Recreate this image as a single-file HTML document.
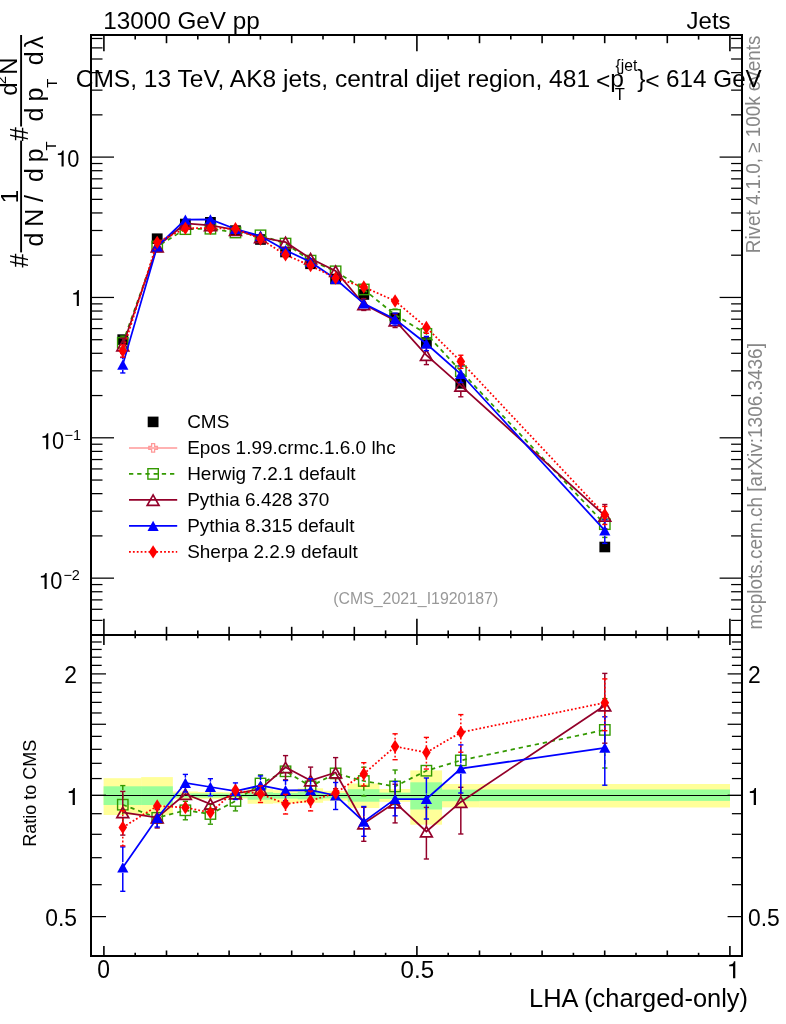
<!DOCTYPE html>
<html><head><meta charset="utf-8"><title>plot</title>
<style>
html,body{margin:0;padding:0;background:#fff;}
body{width:786px;height:1024px;overflow:hidden;font-family:"Liberation Sans",sans-serif;}
svg{display:block;position:absolute;left:0;top:0;will-change:transform;}
text{font-family:"Liberation Sans",sans-serif;}
</style></head><body>
<svg width="786" height="1024" viewBox="0 0 786 1024">
<rect x="0" y="0" width="786" height="1024" fill="#fff"/>
<clipPath id="cr"><rect x="91.0" y="635.0" width="651.0" height="321.0"/></clipPath>
<clipPath id="cm"><rect x="91.0" y="35.0" width="651.0" height="600.0"/></clipPath>
<g clip-path="url(#cr)">
<rect x="103.60" y="778.20" width="37.96" height="36.80" fill="#ffff99"/>
<rect x="141.16" y="777.10" width="31.70" height="37.70" fill="#ffff99"/>
<rect x="172.46" y="791.50" width="25.44" height="7.50" fill="#ffff99"/>
<rect x="197.50" y="792.00" width="25.44" height="7.20" fill="#ffff99"/>
<rect x="222.54" y="792.20" width="25.44" height="6.40" fill="#ffff99"/>
<rect x="247.58" y="788.80" width="25.44" height="15.00" fill="#ffff99"/>
<rect x="272.62" y="790.20" width="25.44" height="13.10" fill="#ffff99"/>
<rect x="297.66" y="788.30" width="25.44" height="14.50" fill="#ffff99"/>
<rect x="322.70" y="790.90" width="25.44" height="9.80" fill="#ffff99"/>
<rect x="347.74" y="783.50" width="31.70" height="24.50" fill="#ffff99"/>
<rect x="379.04" y="789.00" width="31.70" height="12.90" fill="#ffff99"/>
<rect x="410.34" y="770.40" width="31.70" height="54.30" fill="#ffff99"/>
<rect x="441.64" y="784.00" width="37.96" height="23.40" fill="#ffff99"/>
<rect x="479.20" y="784.00" width="250.80" height="23.50" fill="#ffff99"/>
<rect x="103.60" y="786.30" width="37.96" height="18.70" fill="#99ff99"/>
<rect x="141.16" y="786.30" width="31.70" height="18.70" fill="#99ff99"/>
<rect x="172.46" y="793.40" width="25.44" height="4.20" fill="#99ff99"/>
<rect x="197.50" y="793.50" width="25.44" height="4.10" fill="#99ff99"/>
<rect x="222.54" y="793.60" width="25.44" height="3.80" fill="#99ff99"/>
<rect x="247.58" y="792.20" width="25.44" height="7.50" fill="#99ff99"/>
<rect x="272.62" y="793.00" width="25.44" height="5.60" fill="#99ff99"/>
<rect x="297.66" y="791.80" width="25.44" height="7.50" fill="#99ff99"/>
<rect x="322.70" y="793.00" width="25.44" height="5.40" fill="#99ff99"/>
<rect x="347.74" y="789.20" width="31.70" height="12.50" fill="#99ff99"/>
<rect x="379.04" y="792.60" width="31.70" height="6.30" fill="#99ff99"/>
<rect x="410.34" y="782.30" width="31.70" height="27.20" fill="#99ff99"/>
<rect x="441.64" y="789.60" width="37.96" height="11.60" fill="#99ff99"/>
<rect x="479.20" y="789.50" width="250.80" height="11.40" fill="#99ff99"/>
<line x1="91.00" y1="795.50" x2="742.00" y2="795.50" stroke="#000" stroke-width="1.1" />
<polyline points="122.78,804.70 157.21,817.80 185.38,810.30 210.42,814.00 235.46,801.00 260.50,783.50 285.54,771.30 310.58,786.40 335.62,773.40 363.79,781.00 395.09,786.40 426.39,770.70 460.82,760.40 604.80,729.90" fill="none" stroke="#339900" stroke-width="1.75" stroke-dasharray="4.3 3.9"/>
<line x1="122.78" y1="785.60" x2="122.78" y2="799.30" stroke="#339900" stroke-width="1.5" stroke-dasharray="4.3 3.9"/>
<line x1="120.18" y1="785.60" x2="125.38" y2="785.60" stroke="#339900" stroke-width="1.4" />
<line x1="122.78" y1="810.10" x2="122.78" y2="826.14" stroke="#339900" stroke-width="1.5" stroke-dasharray="4.3 3.9"/>
<line x1="120.18" y1="826.14" x2="125.38" y2="826.14" stroke="#339900" stroke-width="1.4" />
<line x1="185.38" y1="801.29" x2="185.38" y2="804.90" stroke="#339900" stroke-width="1.5" stroke-dasharray="4.3 3.9"/>
<line x1="182.78" y1="801.29" x2="187.98" y2="801.29" stroke="#339900" stroke-width="1.4" />
<line x1="185.38" y1="815.70" x2="185.38" y2="819.80" stroke="#339900" stroke-width="1.5" stroke-dasharray="4.3 3.9"/>
<line x1="182.78" y1="819.80" x2="187.98" y2="819.80" stroke="#339900" stroke-width="1.4" />
<line x1="210.42" y1="804.36" x2="210.42" y2="808.60" stroke="#339900" stroke-width="1.5" stroke-dasharray="4.3 3.9"/>
<line x1="207.82" y1="804.36" x2="213.02" y2="804.36" stroke="#339900" stroke-width="1.4" />
<line x1="210.42" y1="819.40" x2="210.42" y2="824.20" stroke="#339900" stroke-width="1.5" stroke-dasharray="4.3 3.9"/>
<line x1="207.82" y1="824.20" x2="213.02" y2="824.20" stroke="#339900" stroke-width="1.4" />
<line x1="235.46" y1="791.63" x2="235.46" y2="795.60" stroke="#339900" stroke-width="1.5" stroke-dasharray="4.3 3.9"/>
<line x1="232.86" y1="791.63" x2="238.06" y2="791.63" stroke="#339900" stroke-width="1.4" />
<line x1="235.46" y1="806.40" x2="235.46" y2="810.90" stroke="#339900" stroke-width="1.5" stroke-dasharray="4.3 3.9"/>
<line x1="232.86" y1="810.90" x2="238.06" y2="810.90" stroke="#339900" stroke-width="1.4" />
<line x1="260.50" y1="774.90" x2="260.50" y2="778.10" stroke="#339900" stroke-width="1.5" stroke-dasharray="4.3 3.9"/>
<line x1="257.90" y1="774.90" x2="263.10" y2="774.90" stroke="#339900" stroke-width="1.4" />
<line x1="260.50" y1="788.90" x2="260.50" y2="792.54" stroke="#339900" stroke-width="1.5" stroke-dasharray="4.3 3.9"/>
<line x1="257.90" y1="792.54" x2="263.10" y2="792.54" stroke="#339900" stroke-width="1.4" />
<line x1="363.79" y1="767.20" x2="363.79" y2="775.60" stroke="#339900" stroke-width="1.5" stroke-dasharray="4.3 3.9"/>
<line x1="361.19" y1="767.20" x2="366.39" y2="767.20" stroke="#339900" stroke-width="1.4" />
<line x1="363.79" y1="786.40" x2="363.79" y2="795.98" stroke="#339900" stroke-width="1.5" stroke-dasharray="4.3 3.9"/>
<line x1="361.19" y1="795.98" x2="366.39" y2="795.98" stroke="#339900" stroke-width="1.4" />
<line x1="395.09" y1="770.00" x2="395.09" y2="781.00" stroke="#339900" stroke-width="1.5" stroke-dasharray="4.3 3.9"/>
<line x1="392.49" y1="770.00" x2="397.69" y2="770.00" stroke="#339900" stroke-width="1.4" />
<line x1="395.09" y1="791.80" x2="395.09" y2="804.50" stroke="#339900" stroke-width="1.5" stroke-dasharray="4.3 3.9"/>
<line x1="392.49" y1="804.50" x2="397.69" y2="804.50" stroke="#339900" stroke-width="1.4" />
<line x1="604.80" y1="698.63" x2="604.80" y2="724.50" stroke="#339900" stroke-width="1.5" stroke-dasharray="4.3 3.9"/>
<line x1="602.20" y1="698.63" x2="607.40" y2="698.63" stroke="#339900" stroke-width="1.4" />
<line x1="604.80" y1="735.30" x2="604.80" y2="768.00" stroke="#339900" stroke-width="1.5" stroke-dasharray="4.3 3.9"/>
<line x1="602.20" y1="768.00" x2="607.40" y2="768.00" stroke="#339900" stroke-width="1.4" />
<rect x="117.58" y="799.50" width="10.40" height="10.40" fill="none" stroke="#339900" stroke-width="1.4"/>
<rect x="152.01" y="812.60" width="10.40" height="10.40" fill="none" stroke="#339900" stroke-width="1.4"/>
<rect x="180.18" y="805.10" width="10.40" height="10.40" fill="none" stroke="#339900" stroke-width="1.4"/>
<rect x="205.22" y="808.80" width="10.40" height="10.40" fill="none" stroke="#339900" stroke-width="1.4"/>
<rect x="230.26" y="795.80" width="10.40" height="10.40" fill="none" stroke="#339900" stroke-width="1.4"/>
<rect x="255.30" y="778.30" width="10.40" height="10.40" fill="none" stroke="#339900" stroke-width="1.4"/>
<rect x="280.34" y="766.10" width="10.40" height="10.40" fill="none" stroke="#339900" stroke-width="1.4"/>
<rect x="305.38" y="781.20" width="10.40" height="10.40" fill="none" stroke="#339900" stroke-width="1.4"/>
<rect x="330.42" y="768.20" width="10.40" height="10.40" fill="none" stroke="#339900" stroke-width="1.4"/>
<rect x="358.59" y="775.80" width="10.40" height="10.40" fill="none" stroke="#339900" stroke-width="1.4"/>
<rect x="389.89" y="781.20" width="10.40" height="10.40" fill="none" stroke="#339900" stroke-width="1.4"/>
<rect x="421.19" y="765.50" width="10.40" height="10.40" fill="none" stroke="#339900" stroke-width="1.4"/>
<rect x="455.62" y="755.20" width="10.40" height="10.40" fill="none" stroke="#339900" stroke-width="1.4"/>
<rect x="599.60" y="724.70" width="10.40" height="10.40" fill="none" stroke="#339900" stroke-width="1.4"/>
<polyline points="122.78,812.30 157.21,817.60 185.38,794.00 210.42,804.00 235.46,793.50 260.50,789.00 285.54,767.30 310.58,780.50 335.62,772.50 363.79,823.50 395.09,802.50 426.39,831.50 460.82,801.90 604.80,705.50" fill="none" stroke="#93002a" stroke-width="1.75" />
<line x1="122.78" y1="791.40" x2="122.78" y2="806.90" stroke="#93002a" stroke-width="1.5" />
<line x1="120.18" y1="791.40" x2="125.38" y2="791.40" stroke="#93002a" stroke-width="1.4" />
<line x1="122.78" y1="817.70" x2="122.78" y2="835.10" stroke="#93002a" stroke-width="1.5" />
<line x1="120.18" y1="835.10" x2="125.38" y2="835.10" stroke="#93002a" stroke-width="1.4" />
<line x1="157.21" y1="807.78" x2="157.21" y2="812.20" stroke="#93002a" stroke-width="1.5" />
<line x1="154.61" y1="807.78" x2="159.81" y2="807.78" stroke="#93002a" stroke-width="1.4" />
<line x1="157.21" y1="823.00" x2="157.21" y2="828.00" stroke="#93002a" stroke-width="1.5" />
<line x1="154.61" y1="828.00" x2="159.81" y2="828.00" stroke="#93002a" stroke-width="1.4" />
<line x1="285.54" y1="755.60" x2="285.54" y2="761.90" stroke="#93002a" stroke-width="1.5" />
<line x1="282.94" y1="755.60" x2="288.14" y2="755.60" stroke="#93002a" stroke-width="1.4" />
<line x1="285.54" y1="772.70" x2="285.54" y2="779.84" stroke="#93002a" stroke-width="1.5" />
<line x1="282.94" y1="779.84" x2="288.14" y2="779.84" stroke="#93002a" stroke-width="1.4" />
<line x1="310.58" y1="767.10" x2="310.58" y2="775.10" stroke="#93002a" stroke-width="1.5" />
<line x1="307.98" y1="767.10" x2="313.18" y2="767.10" stroke="#93002a" stroke-width="1.4" />
<line x1="310.58" y1="785.90" x2="310.58" y2="795.01" stroke="#93002a" stroke-width="1.5" />
<line x1="307.98" y1="795.01" x2="313.18" y2="795.01" stroke="#93002a" stroke-width="1.4" />
<line x1="335.62" y1="757.60" x2="335.62" y2="767.10" stroke="#93002a" stroke-width="1.5" />
<line x1="333.02" y1="757.60" x2="338.22" y2="757.60" stroke="#93002a" stroke-width="1.4" />
<line x1="335.62" y1="777.90" x2="335.62" y2="788.79" stroke="#93002a" stroke-width="1.5" />
<line x1="333.02" y1="788.79" x2="338.22" y2="788.79" stroke="#93002a" stroke-width="1.4" />
<line x1="363.79" y1="807.34" x2="363.79" y2="818.10" stroke="#93002a" stroke-width="1.5" />
<line x1="361.19" y1="807.34" x2="366.39" y2="807.34" stroke="#93002a" stroke-width="1.4" />
<line x1="363.79" y1="828.90" x2="363.79" y2="841.30" stroke="#93002a" stroke-width="1.5" />
<line x1="361.19" y1="841.30" x2="366.39" y2="841.30" stroke="#93002a" stroke-width="1.4" />
<line x1="395.09" y1="784.23" x2="395.09" y2="797.10" stroke="#93002a" stroke-width="1.5" />
<line x1="392.49" y1="784.23" x2="397.69" y2="784.23" stroke="#93002a" stroke-width="1.4" />
<line x1="395.09" y1="807.90" x2="395.09" y2="822.90" stroke="#93002a" stroke-width="1.5" />
<line x1="392.49" y1="822.90" x2="397.69" y2="822.90" stroke="#93002a" stroke-width="1.4" />
<line x1="426.39" y1="807.40" x2="426.39" y2="826.10" stroke="#93002a" stroke-width="1.5" />
<line x1="423.79" y1="807.40" x2="428.99" y2="807.40" stroke="#93002a" stroke-width="1.4" />
<line x1="426.39" y1="836.90" x2="426.39" y2="859.00" stroke="#93002a" stroke-width="1.5" />
<line x1="423.79" y1="859.00" x2="428.99" y2="859.00" stroke="#93002a" stroke-width="1.4" />
<line x1="460.82" y1="787.30" x2="460.82" y2="796.50" stroke="#93002a" stroke-width="1.5" />
<line x1="458.22" y1="787.30" x2="463.42" y2="787.30" stroke="#93002a" stroke-width="1.4" />
<line x1="460.82" y1="807.30" x2="460.82" y2="834.00" stroke="#93002a" stroke-width="1.5" />
<line x1="458.22" y1="834.00" x2="463.42" y2="834.00" stroke="#93002a" stroke-width="1.4" />
<line x1="604.80" y1="673.40" x2="604.80" y2="700.10" stroke="#93002a" stroke-width="1.5" />
<line x1="602.20" y1="673.40" x2="607.40" y2="673.40" stroke="#93002a" stroke-width="1.4" />
<line x1="604.80" y1="710.90" x2="604.80" y2="743.20" stroke="#93002a" stroke-width="1.5" />
<line x1="602.20" y1="743.20" x2="607.40" y2="743.20" stroke="#93002a" stroke-width="1.4" />
<polygon points="116.88,817.70 128.68,817.70 122.78,807.30" fill="none" stroke="#93002a" stroke-width="1.7" stroke-linejoin="miter"/>
<polygon points="151.31,823.00 163.11,823.00 157.21,812.60" fill="none" stroke="#93002a" stroke-width="1.7" stroke-linejoin="miter"/>
<polygon points="179.48,799.40 191.28,799.40 185.38,789.00" fill="none" stroke="#93002a" stroke-width="1.7" stroke-linejoin="miter"/>
<polygon points="204.52,809.40 216.32,809.40 210.42,799.00" fill="none" stroke="#93002a" stroke-width="1.7" stroke-linejoin="miter"/>
<polygon points="229.56,798.90 241.36,798.90 235.46,788.50" fill="none" stroke="#93002a" stroke-width="1.7" stroke-linejoin="miter"/>
<polygon points="254.60,794.40 266.40,794.40 260.50,784.00" fill="none" stroke="#93002a" stroke-width="1.7" stroke-linejoin="miter"/>
<polygon points="279.64,772.70 291.44,772.70 285.54,762.30" fill="none" stroke="#93002a" stroke-width="1.7" stroke-linejoin="miter"/>
<polygon points="304.68,785.90 316.48,785.90 310.58,775.50" fill="none" stroke="#93002a" stroke-width="1.7" stroke-linejoin="miter"/>
<polygon points="329.72,777.90 341.52,777.90 335.62,767.50" fill="none" stroke="#93002a" stroke-width="1.7" stroke-linejoin="miter"/>
<polygon points="357.89,828.90 369.69,828.90 363.79,818.50" fill="none" stroke="#93002a" stroke-width="1.7" stroke-linejoin="miter"/>
<polygon points="389.19,807.90 400.99,807.90 395.09,797.50" fill="none" stroke="#93002a" stroke-width="1.7" stroke-linejoin="miter"/>
<polygon points="420.49,836.90 432.29,836.90 426.39,826.50" fill="none" stroke="#93002a" stroke-width="1.7" stroke-linejoin="miter"/>
<polygon points="454.92,807.30 466.72,807.30 460.82,796.90" fill="none" stroke="#93002a" stroke-width="1.7" stroke-linejoin="miter"/>
<polygon points="598.90,710.90 610.70,710.90 604.80,700.50" fill="none" stroke="#93002a" stroke-width="1.7" stroke-linejoin="miter"/>
<polyline points="122.78,867.40 157.21,818.00 185.38,783.00 210.42,787.00 235.46,791.00 260.50,785.50 285.54,790.30 310.58,790.20 335.62,795.50 363.79,821.70 395.09,799.00 426.39,799.00 460.82,768.60 604.80,747.80" fill="none" stroke="#0000ff" stroke-width="1.75" />
<line x1="122.78" y1="846.90" x2="122.78" y2="862.00" stroke="#0000ff" stroke-width="1.5" />
<line x1="120.18" y1="846.90" x2="125.38" y2="846.90" stroke="#0000ff" stroke-width="1.4" />
<line x1="122.78" y1="872.80" x2="122.78" y2="891.30" stroke="#0000ff" stroke-width="1.5" />
<line x1="120.18" y1="891.30" x2="125.38" y2="891.30" stroke="#0000ff" stroke-width="1.4" />
<line x1="157.21" y1="809.44" x2="157.21" y2="812.60" stroke="#0000ff" stroke-width="1.5" />
<line x1="154.61" y1="809.44" x2="159.81" y2="809.44" stroke="#0000ff" stroke-width="1.4" />
<line x1="157.21" y1="823.40" x2="157.21" y2="827.00" stroke="#0000ff" stroke-width="1.5" />
<line x1="154.61" y1="827.00" x2="159.81" y2="827.00" stroke="#0000ff" stroke-width="1.4" />
<line x1="185.38" y1="774.40" x2="185.38" y2="777.60" stroke="#0000ff" stroke-width="1.5" />
<line x1="182.78" y1="774.40" x2="187.98" y2="774.40" stroke="#0000ff" stroke-width="1.4" />
<line x1="185.38" y1="788.40" x2="185.38" y2="792.04" stroke="#0000ff" stroke-width="1.5" />
<line x1="182.78" y1="792.04" x2="187.98" y2="792.04" stroke="#0000ff" stroke-width="1.4" />
<line x1="210.42" y1="778.70" x2="210.42" y2="781.60" stroke="#0000ff" stroke-width="1.5" />
<line x1="207.82" y1="778.70" x2="213.02" y2="778.70" stroke="#0000ff" stroke-width="1.4" />
<line x1="210.42" y1="792.40" x2="210.42" y2="795.71" stroke="#0000ff" stroke-width="1.5" />
<line x1="207.82" y1="795.71" x2="213.02" y2="795.71" stroke="#0000ff" stroke-width="1.4" />
<line x1="235.46" y1="782.90" x2="235.46" y2="785.60" stroke="#0000ff" stroke-width="1.5" />
<line x1="232.86" y1="782.90" x2="238.06" y2="782.90" stroke="#0000ff" stroke-width="1.4" />
<line x1="235.46" y1="796.40" x2="235.46" y2="799.49" stroke="#0000ff" stroke-width="1.5" />
<line x1="232.86" y1="799.49" x2="238.06" y2="799.49" stroke="#0000ff" stroke-width="1.4" />
<line x1="260.50" y1="775.90" x2="260.50" y2="780.10" stroke="#0000ff" stroke-width="1.5" />
<line x1="257.90" y1="775.90" x2="263.10" y2="775.90" stroke="#0000ff" stroke-width="1.4" />
<line x1="260.50" y1="790.90" x2="260.50" y2="795.66" stroke="#0000ff" stroke-width="1.5" />
<line x1="257.90" y1="795.66" x2="263.10" y2="795.66" stroke="#0000ff" stroke-width="1.4" />
<line x1="285.54" y1="780.50" x2="285.54" y2="784.90" stroke="#0000ff" stroke-width="1.5" />
<line x1="282.94" y1="780.50" x2="288.14" y2="780.50" stroke="#0000ff" stroke-width="1.4" />
<line x1="285.54" y1="795.70" x2="285.54" y2="800.68" stroke="#0000ff" stroke-width="1.5" />
<line x1="282.94" y1="800.68" x2="288.14" y2="800.68" stroke="#0000ff" stroke-width="1.4" />
<line x1="310.58" y1="778.70" x2="310.58" y2="784.80" stroke="#0000ff" stroke-width="1.5" />
<line x1="307.98" y1="778.70" x2="313.18" y2="778.70" stroke="#0000ff" stroke-width="1.4" />
<line x1="310.58" y1="795.60" x2="310.58" y2="802.51" stroke="#0000ff" stroke-width="1.5" />
<line x1="307.98" y1="802.51" x2="313.18" y2="802.51" stroke="#0000ff" stroke-width="1.4" />
<line x1="335.62" y1="782.50" x2="335.62" y2="790.10" stroke="#0000ff" stroke-width="1.5" />
<line x1="333.02" y1="782.50" x2="338.22" y2="782.50" stroke="#0000ff" stroke-width="1.4" />
<line x1="335.62" y1="800.90" x2="335.62" y2="809.50" stroke="#0000ff" stroke-width="1.5" />
<line x1="333.02" y1="809.50" x2="338.22" y2="809.50" stroke="#0000ff" stroke-width="1.4" />
<line x1="363.79" y1="806.50" x2="363.79" y2="816.30" stroke="#0000ff" stroke-width="1.5" />
<line x1="361.19" y1="806.50" x2="366.39" y2="806.50" stroke="#0000ff" stroke-width="1.4" />
<line x1="363.79" y1="827.10" x2="363.79" y2="836.30" stroke="#0000ff" stroke-width="1.5" />
<line x1="361.19" y1="836.30" x2="366.39" y2="836.30" stroke="#0000ff" stroke-width="1.4" />
<line x1="395.09" y1="781.60" x2="395.09" y2="793.60" stroke="#0000ff" stroke-width="1.5" />
<line x1="392.49" y1="781.60" x2="397.69" y2="781.60" stroke="#0000ff" stroke-width="1.4" />
<line x1="395.09" y1="804.40" x2="395.09" y2="815.80" stroke="#0000ff" stroke-width="1.5" />
<line x1="392.49" y1="815.80" x2="397.69" y2="815.80" stroke="#0000ff" stroke-width="1.4" />
<line x1="426.39" y1="778.00" x2="426.39" y2="793.60" stroke="#0000ff" stroke-width="1.5" />
<line x1="423.79" y1="778.00" x2="428.99" y2="778.00" stroke="#0000ff" stroke-width="1.4" />
<line x1="426.39" y1="804.40" x2="426.39" y2="819.00" stroke="#0000ff" stroke-width="1.5" />
<line x1="423.79" y1="819.00" x2="428.99" y2="819.00" stroke="#0000ff" stroke-width="1.4" />
<line x1="460.82" y1="744.90" x2="460.82" y2="763.20" stroke="#0000ff" stroke-width="1.5" />
<line x1="458.22" y1="744.90" x2="463.42" y2="744.90" stroke="#0000ff" stroke-width="1.4" />
<line x1="460.82" y1="774.00" x2="460.82" y2="793.00" stroke="#0000ff" stroke-width="1.5" />
<line x1="458.22" y1="793.00" x2="463.42" y2="793.00" stroke="#0000ff" stroke-width="1.4" />
<line x1="604.80" y1="716.80" x2="604.80" y2="742.40" stroke="#0000ff" stroke-width="1.5" />
<line x1="602.20" y1="716.80" x2="607.40" y2="716.80" stroke="#0000ff" stroke-width="1.4" />
<line x1="604.80" y1="753.20" x2="604.80" y2="785.20" stroke="#0000ff" stroke-width="1.5" />
<line x1="602.20" y1="785.20" x2="607.40" y2="785.20" stroke="#0000ff" stroke-width="1.4" />
<polygon points="117.18,872.40 128.38,872.40 122.78,862.20" fill="#0000ff"/>
<polygon points="151.61,823.00 162.81,823.00 157.21,812.80" fill="#0000ff"/>
<polygon points="179.78,788.00 190.98,788.00 185.38,777.80" fill="#0000ff"/>
<polygon points="204.82,792.00 216.02,792.00 210.42,781.80" fill="#0000ff"/>
<polygon points="229.86,796.00 241.06,796.00 235.46,785.80" fill="#0000ff"/>
<polygon points="254.90,790.50 266.10,790.50 260.50,780.30" fill="#0000ff"/>
<polygon points="279.94,795.30 291.14,795.30 285.54,785.10" fill="#0000ff"/>
<polygon points="304.98,795.20 316.18,795.20 310.58,785.00" fill="#0000ff"/>
<polygon points="330.02,800.50 341.22,800.50 335.62,790.30" fill="#0000ff"/>
<polygon points="358.19,826.70 369.39,826.70 363.79,816.50" fill="#0000ff"/>
<polygon points="389.49,804.00 400.69,804.00 395.09,793.80" fill="#0000ff"/>
<polygon points="420.79,804.00 431.99,804.00 426.39,793.80" fill="#0000ff"/>
<polygon points="455.22,773.60 466.42,773.60 460.82,763.40" fill="#0000ff"/>
<polygon points="599.20,752.80 610.40,752.80 604.80,742.60" fill="#0000ff"/>
<polyline points="122.78,827.40 157.21,806.00 185.38,807.50 210.42,812.60 235.46,790.30 260.50,794.00 285.54,803.90 310.58,800.70 335.62,793.00 363.79,773.90 395.09,746.50 426.39,752.50 460.82,732.40 604.80,702.70" fill="none" stroke="#ff0000" stroke-width="1.75" stroke-dasharray="1.8 2.1"/>
<line x1="122.78" y1="810.67" x2="122.78" y2="822.00" stroke="#ff0000" stroke-width="1.5" stroke-dasharray="1.8 2.1"/>
<line x1="120.18" y1="810.67" x2="125.38" y2="810.67" stroke="#ff0000" stroke-width="1.4" />
<line x1="122.78" y1="832.80" x2="122.78" y2="845.90" stroke="#ff0000" stroke-width="1.5" stroke-dasharray="1.8 2.1"/>
<line x1="120.18" y1="845.90" x2="125.38" y2="845.90" stroke="#ff0000" stroke-width="1.4" />
<line x1="260.50" y1="785.89" x2="260.50" y2="788.60" stroke="#ff0000" stroke-width="1.5" stroke-dasharray="1.8 2.1"/>
<line x1="257.90" y1="785.89" x2="263.10" y2="785.89" stroke="#ff0000" stroke-width="1.4" />
<line x1="260.50" y1="799.40" x2="260.50" y2="802.50" stroke="#ff0000" stroke-width="1.5" stroke-dasharray="1.8 2.1"/>
<line x1="257.90" y1="802.50" x2="263.10" y2="802.50" stroke="#ff0000" stroke-width="1.4" />
<line x1="285.54" y1="794.35" x2="285.54" y2="798.50" stroke="#ff0000" stroke-width="1.5" stroke-dasharray="1.8 2.1"/>
<line x1="282.94" y1="794.35" x2="288.14" y2="794.35" stroke="#ff0000" stroke-width="1.4" />
<line x1="285.54" y1="809.30" x2="285.54" y2="814.00" stroke="#ff0000" stroke-width="1.5" stroke-dasharray="1.8 2.1"/>
<line x1="282.94" y1="814.00" x2="288.14" y2="814.00" stroke="#ff0000" stroke-width="1.4" />
<line x1="310.58" y1="791.06" x2="310.58" y2="795.30" stroke="#ff0000" stroke-width="1.5" stroke-dasharray="1.8 2.1"/>
<line x1="307.98" y1="791.06" x2="313.18" y2="791.06" stroke="#ff0000" stroke-width="1.4" />
<line x1="310.58" y1="806.10" x2="310.58" y2="810.90" stroke="#ff0000" stroke-width="1.5" stroke-dasharray="1.8 2.1"/>
<line x1="307.98" y1="810.90" x2="313.18" y2="810.90" stroke="#ff0000" stroke-width="1.4" />
<line x1="363.79" y1="762.70" x2="363.79" y2="768.50" stroke="#ff0000" stroke-width="1.5" stroke-dasharray="1.8 2.1"/>
<line x1="361.19" y1="762.70" x2="366.39" y2="762.70" stroke="#ff0000" stroke-width="1.4" />
<line x1="363.79" y1="779.30" x2="363.79" y2="785.87" stroke="#ff0000" stroke-width="1.5" stroke-dasharray="1.8 2.1"/>
<line x1="361.19" y1="785.87" x2="366.39" y2="785.87" stroke="#ff0000" stroke-width="1.4" />
<line x1="395.09" y1="733.80" x2="395.09" y2="741.10" stroke="#ff0000" stroke-width="1.5" stroke-dasharray="1.8 2.1"/>
<line x1="392.49" y1="733.80" x2="397.69" y2="733.80" stroke="#ff0000" stroke-width="1.4" />
<line x1="395.09" y1="751.90" x2="395.09" y2="759.70" stroke="#ff0000" stroke-width="1.5" stroke-dasharray="1.8 2.1"/>
<line x1="392.49" y1="759.70" x2="397.69" y2="759.70" stroke="#ff0000" stroke-width="1.4" />
<line x1="426.39" y1="737.40" x2="426.39" y2="747.10" stroke="#ff0000" stroke-width="1.5" stroke-dasharray="1.8 2.1"/>
<line x1="423.79" y1="737.40" x2="428.99" y2="737.40" stroke="#ff0000" stroke-width="1.4" />
<line x1="426.39" y1="757.90" x2="426.39" y2="769.03" stroke="#ff0000" stroke-width="1.5" stroke-dasharray="1.8 2.1"/>
<line x1="423.79" y1="769.03" x2="428.99" y2="769.03" stroke="#ff0000" stroke-width="1.4" />
<line x1="460.82" y1="714.60" x2="460.82" y2="727.00" stroke="#ff0000" stroke-width="1.5" stroke-dasharray="1.8 2.1"/>
<line x1="458.22" y1="714.60" x2="463.42" y2="714.60" stroke="#ff0000" stroke-width="1.4" />
<line x1="460.82" y1="737.80" x2="460.82" y2="752.22" stroke="#ff0000" stroke-width="1.5" stroke-dasharray="1.8 2.1"/>
<line x1="458.22" y1="752.22" x2="463.42" y2="752.22" stroke="#ff0000" stroke-width="1.4" />
<line x1="604.80" y1="678.90" x2="604.80" y2="697.30" stroke="#ff0000" stroke-width="1.5" stroke-dasharray="1.8 2.1"/>
<line x1="602.20" y1="678.90" x2="607.40" y2="678.90" stroke="#ff0000" stroke-width="1.4" />
<line x1="604.80" y1="708.10" x2="604.80" y2="730.70" stroke="#ff0000" stroke-width="1.5" stroke-dasharray="1.8 2.1"/>
<line x1="602.20" y1="730.70" x2="607.40" y2="730.70" stroke="#ff0000" stroke-width="1.4" />
<polygon points="118.48,827.40 122.78,820.70 127.08,827.40 122.78,834.10" fill="#ff0000"/>
<polygon points="152.91,806.00 157.21,799.30 161.51,806.00 157.21,812.70" fill="#ff0000"/>
<polygon points="181.08,807.50 185.38,800.80 189.68,807.50 185.38,814.20" fill="#ff0000"/>
<polygon points="206.12,812.60 210.42,805.90 214.72,812.60 210.42,819.30" fill="#ff0000"/>
<polygon points="231.16,790.30 235.46,783.60 239.76,790.30 235.46,797.00" fill="#ff0000"/>
<polygon points="256.20,794.00 260.50,787.30 264.80,794.00 260.50,800.70" fill="#ff0000"/>
<polygon points="281.24,803.90 285.54,797.20 289.84,803.90 285.54,810.60" fill="#ff0000"/>
<polygon points="306.28,800.70 310.58,794.00 314.88,800.70 310.58,807.40" fill="#ff0000"/>
<polygon points="331.32,793.00 335.62,786.30 339.92,793.00 335.62,799.70" fill="#ff0000"/>
<polygon points="359.49,773.90 363.79,767.20 368.09,773.90 363.79,780.60" fill="#ff0000"/>
<polygon points="390.79,746.50 395.09,739.80 399.39,746.50 395.09,753.20" fill="#ff0000"/>
<polygon points="422.09,752.50 426.39,745.80 430.69,752.50 426.39,759.20" fill="#ff0000"/>
<polygon points="456.52,732.40 460.82,725.70 465.12,732.40 460.82,739.10" fill="#ff0000"/>
<polygon points="600.50,702.70 604.80,696.00 609.10,702.70 604.80,709.40" fill="#ff0000"/>
</g>
<g clip-path="url(#cm)">
<rect x="117.38" y="334.30" width="10.80" height="10.60" fill="#000"/>
<rect x="151.81" y="233.40" width="10.80" height="10.60" fill="#000"/>
<rect x="179.98" y="218.70" width="10.80" height="10.60" fill="#000"/>
<rect x="205.02" y="217.00" width="10.80" height="10.60" fill="#000"/>
<rect x="230.06" y="225.30" width="10.80" height="10.60" fill="#000"/>
<rect x="255.10" y="234.20" width="10.80" height="10.60" fill="#000"/>
<rect x="280.14" y="246.70" width="10.80" height="10.60" fill="#000"/>
<rect x="305.18" y="258.50" width="10.80" height="10.60" fill="#000"/>
<rect x="330.22" y="273.70" width="10.80" height="10.60" fill="#000"/>
<rect x="358.39" y="289.20" width="10.80" height="10.60" fill="#000"/>
<rect x="389.69" y="312.70" width="10.80" height="10.60" fill="#000"/>
<rect x="420.99" y="337.20" width="10.80" height="10.60" fill="#000"/>
<rect x="455.42" y="378.10" width="10.80" height="10.60" fill="#000"/>
<rect x="599.40" y="541.70" width="10.80" height="10.60" fill="#000"/>
<polyline points="122.78,342.80 157.21,246.46 185.38,229.15 210.42,228.74 235.46,232.51 260.50,235.32 285.54,243.57 310.58,260.63 335.62,271.31 363.79,289.45 395.09,314.83 426.39,333.87 460.82,371.18 604.80,524.16" fill="none" stroke="#339900" stroke-width="1.75" stroke-dasharray="4.3 3.9"/>
<line x1="122.78" y1="336.15" x2="122.78" y2="337.40" stroke="#339900" stroke-width="1.5" stroke-dasharray="4.3 3.9"/>
<line x1="120.18" y1="336.15" x2="125.38" y2="336.15" stroke="#339900" stroke-width="1.4" />
<line x1="122.78" y1="348.20" x2="122.78" y2="350.27" stroke="#339900" stroke-width="1.5" stroke-dasharray="4.3 3.9"/>
<line x1="120.18" y1="350.27" x2="125.38" y2="350.27" stroke="#339900" stroke-width="1.4" />
<line x1="395.09" y1="309.12" x2="395.09" y2="309.43" stroke="#339900" stroke-width="1.5" stroke-dasharray="4.3 3.9"/>
<line x1="392.49" y1="309.12" x2="397.69" y2="309.12" stroke="#339900" stroke-width="1.4" />
<line x1="395.09" y1="320.23" x2="395.09" y2="321.13" stroke="#339900" stroke-width="1.5" stroke-dasharray="4.3 3.9"/>
<line x1="392.49" y1="321.13" x2="397.69" y2="321.13" stroke="#339900" stroke-width="1.4" />
<line x1="604.80" y1="513.27" x2="604.80" y2="518.76" stroke="#339900" stroke-width="1.5" stroke-dasharray="4.3 3.9"/>
<line x1="602.20" y1="513.27" x2="607.40" y2="513.27" stroke="#339900" stroke-width="1.4" />
<line x1="604.80" y1="529.56" x2="604.80" y2="537.43" stroke="#339900" stroke-width="1.5" stroke-dasharray="4.3 3.9"/>
<line x1="602.20" y1="537.43" x2="607.40" y2="537.43" stroke="#339900" stroke-width="1.4" />
<rect x="117.58" y="337.60" width="10.40" height="10.40" fill="none" stroke="#339900" stroke-width="1.4"/>
<rect x="152.01" y="241.26" width="10.40" height="10.40" fill="none" stroke="#339900" stroke-width="1.4"/>
<rect x="180.18" y="223.95" width="10.40" height="10.40" fill="none" stroke="#339900" stroke-width="1.4"/>
<rect x="205.22" y="223.54" width="10.40" height="10.40" fill="none" stroke="#339900" stroke-width="1.4"/>
<rect x="230.26" y="227.31" width="10.40" height="10.40" fill="none" stroke="#339900" stroke-width="1.4"/>
<rect x="255.30" y="230.12" width="10.40" height="10.40" fill="none" stroke="#339900" stroke-width="1.4"/>
<rect x="280.34" y="238.37" width="10.40" height="10.40" fill="none" stroke="#339900" stroke-width="1.4"/>
<rect x="305.38" y="255.43" width="10.40" height="10.40" fill="none" stroke="#339900" stroke-width="1.4"/>
<rect x="330.42" y="266.11" width="10.40" height="10.40" fill="none" stroke="#339900" stroke-width="1.4"/>
<rect x="358.59" y="284.25" width="10.40" height="10.40" fill="none" stroke="#339900" stroke-width="1.4"/>
<rect x="389.89" y="309.63" width="10.40" height="10.40" fill="none" stroke="#339900" stroke-width="1.4"/>
<rect x="421.19" y="328.67" width="10.40" height="10.40" fill="none" stroke="#339900" stroke-width="1.4"/>
<rect x="455.62" y="365.98" width="10.40" height="10.40" fill="none" stroke="#339900" stroke-width="1.4"/>
<rect x="599.60" y="518.96" width="10.40" height="10.40" fill="none" stroke="#339900" stroke-width="1.4"/>
<polyline points="122.78,345.45 157.21,246.39 185.38,223.48 210.42,225.26 235.46,229.90 260.50,237.24 285.54,242.18 310.58,258.58 335.62,270.99 363.79,304.25 395.09,320.44 426.39,355.03 460.82,385.63 604.80,515.66" fill="none" stroke="#93002a" stroke-width="1.75" />
<line x1="122.78" y1="338.17" x2="122.78" y2="340.05" stroke="#93002a" stroke-width="1.5" />
<line x1="120.18" y1="338.17" x2="125.38" y2="338.17" stroke="#93002a" stroke-width="1.4" />
<line x1="122.78" y1="350.85" x2="122.78" y2="353.39" stroke="#93002a" stroke-width="1.5" />
<line x1="120.18" y1="353.39" x2="125.38" y2="353.39" stroke="#93002a" stroke-width="1.4" />
<line x1="335.62" y1="276.39" x2="335.62" y2="276.66" stroke="#93002a" stroke-width="1.5" />
<line x1="333.02" y1="276.66" x2="338.22" y2="276.66" stroke="#93002a" stroke-width="1.4" />
<line x1="363.79" y1="298.62" x2="363.79" y2="298.85" stroke="#93002a" stroke-width="1.5" />
<line x1="361.19" y1="298.62" x2="366.39" y2="298.62" stroke="#93002a" stroke-width="1.4" />
<line x1="363.79" y1="309.65" x2="363.79" y2="310.45" stroke="#93002a" stroke-width="1.5" />
<line x1="361.19" y1="310.45" x2="366.39" y2="310.45" stroke="#93002a" stroke-width="1.4" />
<line x1="395.09" y1="314.08" x2="395.09" y2="315.04" stroke="#93002a" stroke-width="1.5" />
<line x1="392.49" y1="314.08" x2="397.69" y2="314.08" stroke="#93002a" stroke-width="1.4" />
<line x1="395.09" y1="325.84" x2="395.09" y2="327.54" stroke="#93002a" stroke-width="1.5" />
<line x1="392.49" y1="327.54" x2="397.69" y2="327.54" stroke="#93002a" stroke-width="1.4" />
<line x1="426.39" y1="346.64" x2="426.39" y2="349.63" stroke="#93002a" stroke-width="1.5" />
<line x1="423.79" y1="346.64" x2="428.99" y2="346.64" stroke="#93002a" stroke-width="1.4" />
<line x1="426.39" y1="360.43" x2="426.39" y2="364.61" stroke="#93002a" stroke-width="1.5" />
<line x1="423.79" y1="364.61" x2="428.99" y2="364.61" stroke="#93002a" stroke-width="1.4" />
<line x1="460.82" y1="391.03" x2="460.82" y2="396.80" stroke="#93002a" stroke-width="1.5" />
<line x1="458.22" y1="396.80" x2="463.42" y2="396.80" stroke="#93002a" stroke-width="1.4" />
<line x1="604.80" y1="504.49" x2="604.80" y2="510.26" stroke="#93002a" stroke-width="1.5" />
<line x1="602.20" y1="504.49" x2="607.40" y2="504.49" stroke="#93002a" stroke-width="1.4" />
<line x1="604.80" y1="521.06" x2="604.80" y2="528.79" stroke="#93002a" stroke-width="1.5" />
<line x1="602.20" y1="528.79" x2="607.40" y2="528.79" stroke="#93002a" stroke-width="1.4" />
<polygon points="116.88,350.85 128.68,350.85 122.78,340.45" fill="none" stroke="#93002a" stroke-width="1.7" stroke-linejoin="miter"/>
<polygon points="151.31,251.79 163.11,251.79 157.21,241.39" fill="none" stroke="#93002a" stroke-width="1.7" stroke-linejoin="miter"/>
<polygon points="179.48,228.88 191.28,228.88 185.38,218.48" fill="none" stroke="#93002a" stroke-width="1.7" stroke-linejoin="miter"/>
<polygon points="204.52,230.66 216.32,230.66 210.42,220.26" fill="none" stroke="#93002a" stroke-width="1.7" stroke-linejoin="miter"/>
<polygon points="229.56,235.30 241.36,235.30 235.46,224.90" fill="none" stroke="#93002a" stroke-width="1.7" stroke-linejoin="miter"/>
<polygon points="254.60,242.64 266.40,242.64 260.50,232.24" fill="none" stroke="#93002a" stroke-width="1.7" stroke-linejoin="miter"/>
<polygon points="279.64,247.58 291.44,247.58 285.54,237.18" fill="none" stroke="#93002a" stroke-width="1.7" stroke-linejoin="miter"/>
<polygon points="304.68,263.98 316.48,263.98 310.58,253.58" fill="none" stroke="#93002a" stroke-width="1.7" stroke-linejoin="miter"/>
<polygon points="329.72,276.39 341.52,276.39 335.62,265.99" fill="none" stroke="#93002a" stroke-width="1.7" stroke-linejoin="miter"/>
<polygon points="357.89,309.65 369.69,309.65 363.79,299.25" fill="none" stroke="#93002a" stroke-width="1.7" stroke-linejoin="miter"/>
<polygon points="389.19,325.84 400.99,325.84 395.09,315.44" fill="none" stroke="#93002a" stroke-width="1.7" stroke-linejoin="miter"/>
<polygon points="420.49,360.43 432.29,360.43 426.39,350.03" fill="none" stroke="#93002a" stroke-width="1.7" stroke-linejoin="miter"/>
<polygon points="454.92,391.03 466.72,391.03 460.82,380.63" fill="none" stroke="#93002a" stroke-width="1.7" stroke-linejoin="miter"/>
<polygon points="598.90,521.06 610.70,521.06 604.80,510.66" fill="none" stroke="#93002a" stroke-width="1.7" stroke-linejoin="miter"/>
<polyline points="122.78,364.63 157.21,246.53 185.38,219.65 210.42,219.34 235.46,229.03 260.50,236.02 285.54,250.19 310.58,261.95 335.62,279.00 363.79,303.62 395.09,319.22 426.39,343.72 460.82,374.03 604.80,530.39" fill="none" stroke="#0000ff" stroke-width="1.75" />
<line x1="122.78" y1="357.50" x2="122.78" y2="359.23" stroke="#0000ff" stroke-width="1.5" />
<line x1="120.18" y1="357.50" x2="125.38" y2="357.50" stroke="#0000ff" stroke-width="1.4" />
<line x1="122.78" y1="370.03" x2="122.78" y2="372.96" stroke="#0000ff" stroke-width="1.5" />
<line x1="120.18" y1="372.96" x2="125.38" y2="372.96" stroke="#0000ff" stroke-width="1.4" />
<line x1="395.09" y1="313.16" x2="395.09" y2="313.82" stroke="#0000ff" stroke-width="1.5" />
<line x1="392.49" y1="313.16" x2="397.69" y2="313.16" stroke="#0000ff" stroke-width="1.4" />
<line x1="395.09" y1="324.62" x2="395.09" y2="325.07" stroke="#0000ff" stroke-width="1.5" />
<line x1="392.49" y1="325.07" x2="397.69" y2="325.07" stroke="#0000ff" stroke-width="1.4" />
<line x1="426.39" y1="336.41" x2="426.39" y2="338.32" stroke="#0000ff" stroke-width="1.5" />
<line x1="423.79" y1="336.41" x2="428.99" y2="336.41" stroke="#0000ff" stroke-width="1.4" />
<line x1="426.39" y1="349.12" x2="426.39" y2="350.68" stroke="#0000ff" stroke-width="1.5" />
<line x1="423.79" y1="350.68" x2="428.99" y2="350.68" stroke="#0000ff" stroke-width="1.4" />
<line x1="460.82" y1="365.78" x2="460.82" y2="368.63" stroke="#0000ff" stroke-width="1.5" />
<line x1="458.22" y1="365.78" x2="463.42" y2="365.78" stroke="#0000ff" stroke-width="1.4" />
<line x1="460.82" y1="379.43" x2="460.82" y2="382.53" stroke="#0000ff" stroke-width="1.5" />
<line x1="458.22" y1="382.53" x2="463.42" y2="382.53" stroke="#0000ff" stroke-width="1.4" />
<line x1="604.80" y1="519.60" x2="604.80" y2="524.99" stroke="#0000ff" stroke-width="1.5" />
<line x1="602.20" y1="519.60" x2="607.40" y2="519.60" stroke="#0000ff" stroke-width="1.4" />
<line x1="604.80" y1="535.79" x2="604.80" y2="543.41" stroke="#0000ff" stroke-width="1.5" />
<line x1="602.20" y1="543.41" x2="607.40" y2="543.41" stroke="#0000ff" stroke-width="1.4" />
<polygon points="117.18,369.63 128.38,369.63 122.78,359.43" fill="#0000ff"/>
<polygon points="151.61,251.53 162.81,251.53 157.21,241.33" fill="#0000ff"/>
<polygon points="179.78,224.65 190.98,224.65 185.38,214.45" fill="#0000ff"/>
<polygon points="204.82,224.34 216.02,224.34 210.42,214.14" fill="#0000ff"/>
<polygon points="229.86,234.03 241.06,234.03 235.46,223.83" fill="#0000ff"/>
<polygon points="254.90,241.02 266.10,241.02 260.50,230.82" fill="#0000ff"/>
<polygon points="279.94,255.19 291.14,255.19 285.54,244.99" fill="#0000ff"/>
<polygon points="304.98,266.95 316.18,266.95 310.58,256.75" fill="#0000ff"/>
<polygon points="330.02,284.00 341.22,284.00 335.62,273.80" fill="#0000ff"/>
<polygon points="358.19,308.62 369.39,308.62 363.79,298.42" fill="#0000ff"/>
<polygon points="389.49,324.22 400.69,324.22 395.09,314.02" fill="#0000ff"/>
<polygon points="420.79,348.72 431.99,348.72 426.39,338.52" fill="#0000ff"/>
<polygon points="455.22,379.03 466.42,379.03 460.82,368.83" fill="#0000ff"/>
<polygon points="599.20,535.39 610.40,535.39 604.80,525.19" fill="#0000ff"/>
<polyline points="122.78,350.71 157.21,242.36 185.38,228.18 210.42,228.25 235.46,228.79 260.50,238.98 285.54,254.92 310.58,265.61 335.62,278.13 363.79,286.98 395.09,300.94 426.39,327.53 460.82,361.43 604.80,514.69" fill="none" stroke="#ff0000" stroke-width="1.75" stroke-dasharray="1.8 2.1"/>
<line x1="122.78" y1="344.88" x2="122.78" y2="345.31" stroke="#ff0000" stroke-width="1.5" stroke-dasharray="1.8 2.1"/>
<line x1="120.18" y1="344.88" x2="125.38" y2="344.88" stroke="#ff0000" stroke-width="1.4" />
<line x1="122.78" y1="356.11" x2="122.78" y2="357.15" stroke="#ff0000" stroke-width="1.5" stroke-dasharray="1.8 2.1"/>
<line x1="120.18" y1="357.15" x2="125.38" y2="357.15" stroke="#ff0000" stroke-width="1.4" />
<line x1="426.39" y1="332.93" x2="426.39" y2="333.28" stroke="#ff0000" stroke-width="1.5" stroke-dasharray="1.8 2.1"/>
<line x1="423.79" y1="333.28" x2="428.99" y2="333.28" stroke="#ff0000" stroke-width="1.4" />
<line x1="460.82" y1="355.23" x2="460.82" y2="356.03" stroke="#ff0000" stroke-width="1.5" stroke-dasharray="1.8 2.1"/>
<line x1="458.22" y1="355.23" x2="463.42" y2="355.23" stroke="#ff0000" stroke-width="1.4" />
<line x1="460.82" y1="366.83" x2="460.82" y2="368.33" stroke="#ff0000" stroke-width="1.5" stroke-dasharray="1.8 2.1"/>
<line x1="458.22" y1="368.33" x2="463.42" y2="368.33" stroke="#ff0000" stroke-width="1.4" />
<line x1="604.80" y1="506.40" x2="604.80" y2="509.29" stroke="#ff0000" stroke-width="1.5" stroke-dasharray="1.8 2.1"/>
<line x1="602.20" y1="506.40" x2="607.40" y2="506.40" stroke="#ff0000" stroke-width="1.4" />
<line x1="604.80" y1="520.09" x2="604.80" y2="524.44" stroke="#ff0000" stroke-width="1.5" stroke-dasharray="1.8 2.1"/>
<line x1="602.20" y1="524.44" x2="607.40" y2="524.44" stroke="#ff0000" stroke-width="1.4" />
<polygon points="118.48,350.71 122.78,344.01 127.08,350.71 122.78,357.41" fill="#ff0000"/>
<polygon points="152.91,242.36 157.21,235.66 161.51,242.36 157.21,249.06" fill="#ff0000"/>
<polygon points="181.08,228.18 185.38,221.48 189.68,228.18 185.38,234.88" fill="#ff0000"/>
<polygon points="206.12,228.25 210.42,221.55 214.72,228.25 210.42,234.95" fill="#ff0000"/>
<polygon points="231.16,228.79 235.46,222.09 239.76,228.79 235.46,235.49" fill="#ff0000"/>
<polygon points="256.20,238.98 260.50,232.28 264.80,238.98 260.50,245.68" fill="#ff0000"/>
<polygon points="281.24,254.92 285.54,248.22 289.84,254.92 285.54,261.62" fill="#ff0000"/>
<polygon points="306.28,265.61 310.58,258.91 314.88,265.61 310.58,272.31" fill="#ff0000"/>
<polygon points="331.32,278.13 335.62,271.43 339.92,278.13 335.62,284.83" fill="#ff0000"/>
<polygon points="359.49,286.98 363.79,280.28 368.09,286.98 363.79,293.68" fill="#ff0000"/>
<polygon points="390.79,300.94 395.09,294.24 399.39,300.94 395.09,307.64" fill="#ff0000"/>
<polygon points="422.09,327.53 426.39,320.83 430.69,327.53 426.39,334.23" fill="#ff0000"/>
<polygon points="456.52,361.43 460.82,354.73 465.12,361.43 460.82,368.13" fill="#ff0000"/>
<polygon points="600.50,514.69 604.80,507.99 609.10,514.69 604.80,521.39" fill="#ff0000"/>
</g>
<rect x="147.70" y="416.60" width="10.80" height="10.60" fill="#000"/>
<line x1="129.00" y1="447.90" x2="177.20" y2="447.90" stroke="#ff9999" stroke-width="1.5" />
<polygon points="151.60,443.60 154.60,443.60 154.60,446.40 157.40,446.40 157.40,449.40 154.60,449.40 154.60,452.20 151.60,452.20 151.60,449.40 148.80,449.40 148.80,446.40 151.60,446.40" fill="none" stroke="#ff9999" stroke-width="1.3"/>
<line x1="129.00" y1="473.90" x2="177.20" y2="473.90" stroke="#339900" stroke-width="1.6" stroke-dasharray="4.3 3.9"/>
<rect x="147.90" y="468.70" width="10.40" height="10.40" fill="none" stroke="#339900" stroke-width="1.4"/>
<line x1="129.00" y1="499.90" x2="177.20" y2="499.90" stroke="#93002a" stroke-width="1.6" />
<polygon points="147.20,505.30 159.00,505.30 153.10,494.90" fill="none" stroke="#93002a" stroke-width="1.7" stroke-linejoin="miter"/>
<line x1="129.00" y1="525.90" x2="177.20" y2="525.90" stroke="#0000ff" stroke-width="1.6" />
<polygon points="147.50,530.90 158.70,530.90 153.10,520.70" fill="#0000ff"/>
<line x1="129.00" y1="551.90" x2="177.20" y2="551.90" stroke="#ff0000" stroke-width="1.6" stroke-dasharray="1.8 2.1"/>
<polygon points="148.80,551.90 153.10,545.20 157.40,551.90 153.10,558.60" fill="#ff0000"/>
<line x1="103.90" y1="35.00" x2="103.90" y2="51.20" stroke="#000" stroke-width="1.6" />
<line x1="103.90" y1="618.80" x2="103.90" y2="635.00" stroke="#000" stroke-width="1.6" />
<line x1="103.90" y1="635.00" x2="103.90" y2="645.00" stroke="#000" stroke-width="1.6" />
<line x1="103.90" y1="946.00" x2="103.90" y2="956.00" stroke="#000" stroke-width="1.6" />
<line x1="135.20" y1="35.00" x2="135.20" y2="39.60" stroke="#000" stroke-width="1.6" />
<line x1="135.20" y1="630.40" x2="135.20" y2="635.00" stroke="#000" stroke-width="1.6" />
<line x1="135.20" y1="635.00" x2="135.20" y2="638.20" stroke="#000" stroke-width="1.6" />
<line x1="135.20" y1="952.80" x2="135.20" y2="956.00" stroke="#000" stroke-width="1.6" />
<line x1="166.50" y1="35.00" x2="166.50" y2="43.20" stroke="#000" stroke-width="1.6" />
<line x1="166.50" y1="626.80" x2="166.50" y2="635.00" stroke="#000" stroke-width="1.6" />
<line x1="166.50" y1="635.00" x2="166.50" y2="640.50" stroke="#000" stroke-width="1.6" />
<line x1="166.50" y1="950.50" x2="166.50" y2="956.00" stroke="#000" stroke-width="1.6" />
<line x1="197.80" y1="35.00" x2="197.80" y2="39.60" stroke="#000" stroke-width="1.6" />
<line x1="197.80" y1="630.40" x2="197.80" y2="635.00" stroke="#000" stroke-width="1.6" />
<line x1="197.80" y1="635.00" x2="197.80" y2="638.20" stroke="#000" stroke-width="1.6" />
<line x1="197.80" y1="952.80" x2="197.80" y2="956.00" stroke="#000" stroke-width="1.6" />
<line x1="229.10" y1="35.00" x2="229.10" y2="43.20" stroke="#000" stroke-width="1.6" />
<line x1="229.10" y1="626.80" x2="229.10" y2="635.00" stroke="#000" stroke-width="1.6" />
<line x1="229.10" y1="635.00" x2="229.10" y2="640.50" stroke="#000" stroke-width="1.6" />
<line x1="229.10" y1="950.50" x2="229.10" y2="956.00" stroke="#000" stroke-width="1.6" />
<line x1="260.40" y1="35.00" x2="260.40" y2="39.60" stroke="#000" stroke-width="1.6" />
<line x1="260.40" y1="630.40" x2="260.40" y2="635.00" stroke="#000" stroke-width="1.6" />
<line x1="260.40" y1="635.00" x2="260.40" y2="638.20" stroke="#000" stroke-width="1.6" />
<line x1="260.40" y1="952.80" x2="260.40" y2="956.00" stroke="#000" stroke-width="1.6" />
<line x1="291.70" y1="35.00" x2="291.70" y2="43.20" stroke="#000" stroke-width="1.6" />
<line x1="291.70" y1="626.80" x2="291.70" y2="635.00" stroke="#000" stroke-width="1.6" />
<line x1="291.70" y1="635.00" x2="291.70" y2="640.50" stroke="#000" stroke-width="1.6" />
<line x1="291.70" y1="950.50" x2="291.70" y2="956.00" stroke="#000" stroke-width="1.6" />
<line x1="323.00" y1="35.00" x2="323.00" y2="39.60" stroke="#000" stroke-width="1.6" />
<line x1="323.00" y1="630.40" x2="323.00" y2="635.00" stroke="#000" stroke-width="1.6" />
<line x1="323.00" y1="635.00" x2="323.00" y2="638.20" stroke="#000" stroke-width="1.6" />
<line x1="323.00" y1="952.80" x2="323.00" y2="956.00" stroke="#000" stroke-width="1.6" />
<line x1="354.30" y1="35.00" x2="354.30" y2="43.20" stroke="#000" stroke-width="1.6" />
<line x1="354.30" y1="626.80" x2="354.30" y2="635.00" stroke="#000" stroke-width="1.6" />
<line x1="354.30" y1="635.00" x2="354.30" y2="640.50" stroke="#000" stroke-width="1.6" />
<line x1="354.30" y1="950.50" x2="354.30" y2="956.00" stroke="#000" stroke-width="1.6" />
<line x1="385.60" y1="35.00" x2="385.60" y2="39.60" stroke="#000" stroke-width="1.6" />
<line x1="385.60" y1="630.40" x2="385.60" y2="635.00" stroke="#000" stroke-width="1.6" />
<line x1="385.60" y1="635.00" x2="385.60" y2="638.20" stroke="#000" stroke-width="1.6" />
<line x1="385.60" y1="952.80" x2="385.60" y2="956.00" stroke="#000" stroke-width="1.6" />
<line x1="416.90" y1="35.00" x2="416.90" y2="51.20" stroke="#000" stroke-width="1.6" />
<line x1="416.90" y1="618.80" x2="416.90" y2="635.00" stroke="#000" stroke-width="1.6" />
<line x1="416.90" y1="635.00" x2="416.90" y2="645.00" stroke="#000" stroke-width="1.6" />
<line x1="416.90" y1="946.00" x2="416.90" y2="956.00" stroke="#000" stroke-width="1.6" />
<line x1="448.20" y1="35.00" x2="448.20" y2="39.60" stroke="#000" stroke-width="1.6" />
<line x1="448.20" y1="630.40" x2="448.20" y2="635.00" stroke="#000" stroke-width="1.6" />
<line x1="448.20" y1="635.00" x2="448.20" y2="638.20" stroke="#000" stroke-width="1.6" />
<line x1="448.20" y1="952.80" x2="448.20" y2="956.00" stroke="#000" stroke-width="1.6" />
<line x1="479.50" y1="35.00" x2="479.50" y2="43.20" stroke="#000" stroke-width="1.6" />
<line x1="479.50" y1="626.80" x2="479.50" y2="635.00" stroke="#000" stroke-width="1.6" />
<line x1="479.50" y1="635.00" x2="479.50" y2="640.50" stroke="#000" stroke-width="1.6" />
<line x1="479.50" y1="950.50" x2="479.50" y2="956.00" stroke="#000" stroke-width="1.6" />
<line x1="510.80" y1="35.00" x2="510.80" y2="39.60" stroke="#000" stroke-width="1.6" />
<line x1="510.80" y1="630.40" x2="510.80" y2="635.00" stroke="#000" stroke-width="1.6" />
<line x1="510.80" y1="635.00" x2="510.80" y2="638.20" stroke="#000" stroke-width="1.6" />
<line x1="510.80" y1="952.80" x2="510.80" y2="956.00" stroke="#000" stroke-width="1.6" />
<line x1="542.10" y1="35.00" x2="542.10" y2="43.20" stroke="#000" stroke-width="1.6" />
<line x1="542.10" y1="626.80" x2="542.10" y2="635.00" stroke="#000" stroke-width="1.6" />
<line x1="542.10" y1="635.00" x2="542.10" y2="640.50" stroke="#000" stroke-width="1.6" />
<line x1="542.10" y1="950.50" x2="542.10" y2="956.00" stroke="#000" stroke-width="1.6" />
<line x1="573.40" y1="35.00" x2="573.40" y2="39.60" stroke="#000" stroke-width="1.6" />
<line x1="573.40" y1="630.40" x2="573.40" y2="635.00" stroke="#000" stroke-width="1.6" />
<line x1="573.40" y1="635.00" x2="573.40" y2="638.20" stroke="#000" stroke-width="1.6" />
<line x1="573.40" y1="952.80" x2="573.40" y2="956.00" stroke="#000" stroke-width="1.6" />
<line x1="604.70" y1="35.00" x2="604.70" y2="43.20" stroke="#000" stroke-width="1.6" />
<line x1="604.70" y1="626.80" x2="604.70" y2="635.00" stroke="#000" stroke-width="1.6" />
<line x1="604.70" y1="635.00" x2="604.70" y2="640.50" stroke="#000" stroke-width="1.6" />
<line x1="604.70" y1="950.50" x2="604.70" y2="956.00" stroke="#000" stroke-width="1.6" />
<line x1="636.00" y1="35.00" x2="636.00" y2="39.60" stroke="#000" stroke-width="1.6" />
<line x1="636.00" y1="630.40" x2="636.00" y2="635.00" stroke="#000" stroke-width="1.6" />
<line x1="636.00" y1="635.00" x2="636.00" y2="638.20" stroke="#000" stroke-width="1.6" />
<line x1="636.00" y1="952.80" x2="636.00" y2="956.00" stroke="#000" stroke-width="1.6" />
<line x1="667.30" y1="35.00" x2="667.30" y2="43.20" stroke="#000" stroke-width="1.6" />
<line x1="667.30" y1="626.80" x2="667.30" y2="635.00" stroke="#000" stroke-width="1.6" />
<line x1="667.30" y1="635.00" x2="667.30" y2="640.50" stroke="#000" stroke-width="1.6" />
<line x1="667.30" y1="950.50" x2="667.30" y2="956.00" stroke="#000" stroke-width="1.6" />
<line x1="698.60" y1="35.00" x2="698.60" y2="39.60" stroke="#000" stroke-width="1.6" />
<line x1="698.60" y1="630.40" x2="698.60" y2="635.00" stroke="#000" stroke-width="1.6" />
<line x1="698.60" y1="635.00" x2="698.60" y2="638.20" stroke="#000" stroke-width="1.6" />
<line x1="698.60" y1="952.80" x2="698.60" y2="956.00" stroke="#000" stroke-width="1.6" />
<line x1="729.90" y1="35.00" x2="729.90" y2="51.20" stroke="#000" stroke-width="1.6" />
<line x1="729.90" y1="618.80" x2="729.90" y2="635.00" stroke="#000" stroke-width="1.6" />
<line x1="729.90" y1="635.00" x2="729.90" y2="645.00" stroke="#000" stroke-width="1.6" />
<line x1="729.90" y1="946.00" x2="729.90" y2="956.00" stroke="#000" stroke-width="1.6" />
<line x1="92.00" y1="620.40" x2="102.50" y2="620.40" stroke="#000" stroke-width="1.25" />
<line x1="731.10" y1="620.40" x2="741.00" y2="620.40" stroke="#000" stroke-width="1.25" />
<line x1="92.00" y1="609.29" x2="102.50" y2="609.29" stroke="#000" stroke-width="1.25" />
<line x1="731.10" y1="609.29" x2="741.00" y2="609.29" stroke="#000" stroke-width="1.25" />
<line x1="92.00" y1="599.89" x2="102.50" y2="599.89" stroke="#000" stroke-width="1.25" />
<line x1="731.10" y1="599.89" x2="741.00" y2="599.89" stroke="#000" stroke-width="1.25" />
<line x1="92.00" y1="591.75" x2="102.50" y2="591.75" stroke="#000" stroke-width="1.25" />
<line x1="731.10" y1="591.75" x2="741.00" y2="591.75" stroke="#000" stroke-width="1.25" />
<line x1="92.00" y1="584.57" x2="102.50" y2="584.57" stroke="#000" stroke-width="1.25" />
<line x1="731.10" y1="584.57" x2="741.00" y2="584.57" stroke="#000" stroke-width="1.25" />
<line x1="92.00" y1="578.15" x2="114.00" y2="578.15" stroke="#000" stroke-width="1.25" />
<line x1="719.60" y1="578.15" x2="741.00" y2="578.15" stroke="#000" stroke-width="1.25" />
<line x1="92.00" y1="535.90" x2="102.50" y2="535.90" stroke="#000" stroke-width="1.25" />
<line x1="731.10" y1="535.90" x2="741.00" y2="535.90" stroke="#000" stroke-width="1.25" />
<line x1="92.00" y1="511.19" x2="102.50" y2="511.19" stroke="#000" stroke-width="1.25" />
<line x1="731.10" y1="511.19" x2="741.00" y2="511.19" stroke="#000" stroke-width="1.25" />
<line x1="92.00" y1="493.65" x2="102.50" y2="493.65" stroke="#000" stroke-width="1.25" />
<line x1="731.10" y1="493.65" x2="741.00" y2="493.65" stroke="#000" stroke-width="1.25" />
<line x1="92.00" y1="480.05" x2="102.50" y2="480.05" stroke="#000" stroke-width="1.25" />
<line x1="731.10" y1="480.05" x2="741.00" y2="480.05" stroke="#000" stroke-width="1.25" />
<line x1="92.00" y1="468.94" x2="102.50" y2="468.94" stroke="#000" stroke-width="1.25" />
<line x1="731.10" y1="468.94" x2="741.00" y2="468.94" stroke="#000" stroke-width="1.25" />
<line x1="92.00" y1="459.54" x2="102.50" y2="459.54" stroke="#000" stroke-width="1.25" />
<line x1="731.10" y1="459.54" x2="741.00" y2="459.54" stroke="#000" stroke-width="1.25" />
<line x1="92.00" y1="451.40" x2="102.50" y2="451.40" stroke="#000" stroke-width="1.25" />
<line x1="731.10" y1="451.40" x2="741.00" y2="451.40" stroke="#000" stroke-width="1.25" />
<line x1="92.00" y1="444.22" x2="102.50" y2="444.22" stroke="#000" stroke-width="1.25" />
<line x1="731.10" y1="444.22" x2="741.00" y2="444.22" stroke="#000" stroke-width="1.25" />
<line x1="92.00" y1="437.80" x2="114.00" y2="437.80" stroke="#000" stroke-width="1.25" />
<line x1="719.60" y1="437.80" x2="741.00" y2="437.80" stroke="#000" stroke-width="1.25" />
<line x1="92.00" y1="395.55" x2="102.50" y2="395.55" stroke="#000" stroke-width="1.25" />
<line x1="731.10" y1="395.55" x2="741.00" y2="395.55" stroke="#000" stroke-width="1.25" />
<line x1="92.00" y1="370.84" x2="102.50" y2="370.84" stroke="#000" stroke-width="1.25" />
<line x1="731.10" y1="370.84" x2="741.00" y2="370.84" stroke="#000" stroke-width="1.25" />
<line x1="92.00" y1="353.30" x2="102.50" y2="353.30" stroke="#000" stroke-width="1.25" />
<line x1="731.10" y1="353.30" x2="741.00" y2="353.30" stroke="#000" stroke-width="1.25" />
<line x1="92.00" y1="339.70" x2="102.50" y2="339.70" stroke="#000" stroke-width="1.25" />
<line x1="731.10" y1="339.70" x2="741.00" y2="339.70" stroke="#000" stroke-width="1.25" />
<line x1="92.00" y1="328.59" x2="102.50" y2="328.59" stroke="#000" stroke-width="1.25" />
<line x1="731.10" y1="328.59" x2="741.00" y2="328.59" stroke="#000" stroke-width="1.25" />
<line x1="92.00" y1="319.19" x2="102.50" y2="319.19" stroke="#000" stroke-width="1.25" />
<line x1="731.10" y1="319.19" x2="741.00" y2="319.19" stroke="#000" stroke-width="1.25" />
<line x1="92.00" y1="311.05" x2="102.50" y2="311.05" stroke="#000" stroke-width="1.25" />
<line x1="731.10" y1="311.05" x2="741.00" y2="311.05" stroke="#000" stroke-width="1.25" />
<line x1="92.00" y1="303.87" x2="102.50" y2="303.87" stroke="#000" stroke-width="1.25" />
<line x1="731.10" y1="303.87" x2="741.00" y2="303.87" stroke="#000" stroke-width="1.25" />
<line x1="92.00" y1="297.45" x2="114.00" y2="297.45" stroke="#000" stroke-width="1.25" />
<line x1="719.60" y1="297.45" x2="741.00" y2="297.45" stroke="#000" stroke-width="1.25" />
<line x1="92.00" y1="255.20" x2="102.50" y2="255.20" stroke="#000" stroke-width="1.25" />
<line x1="731.10" y1="255.20" x2="741.00" y2="255.20" stroke="#000" stroke-width="1.25" />
<line x1="92.00" y1="230.49" x2="102.50" y2="230.49" stroke="#000" stroke-width="1.25" />
<line x1="731.10" y1="230.49" x2="741.00" y2="230.49" stroke="#000" stroke-width="1.25" />
<line x1="92.00" y1="212.95" x2="102.50" y2="212.95" stroke="#000" stroke-width="1.25" />
<line x1="731.10" y1="212.95" x2="741.00" y2="212.95" stroke="#000" stroke-width="1.25" />
<line x1="92.00" y1="199.35" x2="102.50" y2="199.35" stroke="#000" stroke-width="1.25" />
<line x1="731.10" y1="199.35" x2="741.00" y2="199.35" stroke="#000" stroke-width="1.25" />
<line x1="92.00" y1="188.24" x2="102.50" y2="188.24" stroke="#000" stroke-width="1.25" />
<line x1="731.10" y1="188.24" x2="741.00" y2="188.24" stroke="#000" stroke-width="1.25" />
<line x1="92.00" y1="178.84" x2="102.50" y2="178.84" stroke="#000" stroke-width="1.25" />
<line x1="731.10" y1="178.84" x2="741.00" y2="178.84" stroke="#000" stroke-width="1.25" />
<line x1="92.00" y1="170.70" x2="102.50" y2="170.70" stroke="#000" stroke-width="1.25" />
<line x1="731.10" y1="170.70" x2="741.00" y2="170.70" stroke="#000" stroke-width="1.25" />
<line x1="92.00" y1="163.52" x2="102.50" y2="163.52" stroke="#000" stroke-width="1.25" />
<line x1="731.10" y1="163.52" x2="741.00" y2="163.52" stroke="#000" stroke-width="1.25" />
<line x1="92.00" y1="157.10" x2="114.00" y2="157.10" stroke="#000" stroke-width="1.25" />
<line x1="719.60" y1="157.10" x2="741.00" y2="157.10" stroke="#000" stroke-width="1.25" />
<line x1="92.00" y1="114.85" x2="102.50" y2="114.85" stroke="#000" stroke-width="1.25" />
<line x1="731.10" y1="114.85" x2="741.00" y2="114.85" stroke="#000" stroke-width="1.25" />
<line x1="92.00" y1="90.14" x2="102.50" y2="90.14" stroke="#000" stroke-width="1.25" />
<line x1="731.10" y1="90.14" x2="741.00" y2="90.14" stroke="#000" stroke-width="1.25" />
<line x1="92.00" y1="72.60" x2="102.50" y2="72.60" stroke="#000" stroke-width="1.25" />
<line x1="731.10" y1="72.60" x2="741.00" y2="72.60" stroke="#000" stroke-width="1.25" />
<line x1="92.00" y1="59.00" x2="102.50" y2="59.00" stroke="#000" stroke-width="1.25" />
<line x1="731.10" y1="59.00" x2="741.00" y2="59.00" stroke="#000" stroke-width="1.25" />
<line x1="92.00" y1="47.89" x2="102.50" y2="47.89" stroke="#000" stroke-width="1.25" />
<line x1="731.10" y1="47.89" x2="741.00" y2="47.89" stroke="#000" stroke-width="1.25" />
<line x1="92.00" y1="38.49" x2="102.50" y2="38.49" stroke="#000" stroke-width="1.25" />
<line x1="731.10" y1="38.49" x2="741.00" y2="38.49" stroke="#000" stroke-width="1.25" />
<line x1="92.00" y1="916.60" x2="106.00" y2="916.60" stroke="#000" stroke-width="1.25" />
<line x1="727.60" y1="916.60" x2="741.00" y2="916.60" stroke="#000" stroke-width="1.25" />
<line x1="92.00" y1="884.68" x2="101.70" y2="884.68" stroke="#000" stroke-width="1.25" />
<line x1="731.90" y1="884.68" x2="741.00" y2="884.68" stroke="#000" stroke-width="1.25" />
<line x1="92.00" y1="857.69" x2="101.70" y2="857.69" stroke="#000" stroke-width="1.25" />
<line x1="731.90" y1="857.69" x2="741.00" y2="857.69" stroke="#000" stroke-width="1.25" />
<line x1="92.00" y1="834.31" x2="101.70" y2="834.31" stroke="#000" stroke-width="1.25" />
<line x1="731.90" y1="834.31" x2="741.00" y2="834.31" stroke="#000" stroke-width="1.25" />
<line x1="92.00" y1="813.69" x2="101.70" y2="813.69" stroke="#000" stroke-width="1.25" />
<line x1="731.90" y1="813.69" x2="741.00" y2="813.69" stroke="#000" stroke-width="1.25" />
<line x1="92.00" y1="795.25" x2="106.00" y2="795.25" stroke="#000" stroke-width="1.25" />
<line x1="727.60" y1="795.25" x2="741.00" y2="795.25" stroke="#000" stroke-width="1.25" />
<line x1="92.00" y1="778.56" x2="101.70" y2="778.56" stroke="#000" stroke-width="1.25" />
<line x1="731.90" y1="778.56" x2="741.00" y2="778.56" stroke="#000" stroke-width="1.25" />
<line x1="92.00" y1="763.33" x2="101.70" y2="763.33" stroke="#000" stroke-width="1.25" />
<line x1="731.90" y1="763.33" x2="741.00" y2="763.33" stroke="#000" stroke-width="1.25" />
<line x1="92.00" y1="749.32" x2="101.70" y2="749.32" stroke="#000" stroke-width="1.25" />
<line x1="731.90" y1="749.32" x2="741.00" y2="749.32" stroke="#000" stroke-width="1.25" />
<line x1="92.00" y1="736.35" x2="101.70" y2="736.35" stroke="#000" stroke-width="1.25" />
<line x1="731.90" y1="736.35" x2="741.00" y2="736.35" stroke="#000" stroke-width="1.25" />
<line x1="92.00" y1="724.27" x2="106.00" y2="724.27" stroke="#000" stroke-width="1.25" />
<line x1="727.60" y1="724.27" x2="741.00" y2="724.27" stroke="#000" stroke-width="1.25" />
<line x1="92.00" y1="712.97" x2="101.70" y2="712.97" stroke="#000" stroke-width="1.25" />
<line x1="731.90" y1="712.97" x2="741.00" y2="712.97" stroke="#000" stroke-width="1.25" />
<line x1="92.00" y1="702.36" x2="101.70" y2="702.36" stroke="#000" stroke-width="1.25" />
<line x1="731.90" y1="702.36" x2="741.00" y2="702.36" stroke="#000" stroke-width="1.25" />
<line x1="92.00" y1="692.35" x2="101.70" y2="692.35" stroke="#000" stroke-width="1.25" />
<line x1="731.90" y1="692.35" x2="741.00" y2="692.35" stroke="#000" stroke-width="1.25" />
<line x1="92.00" y1="682.88" x2="101.70" y2="682.88" stroke="#000" stroke-width="1.25" />
<line x1="731.90" y1="682.88" x2="741.00" y2="682.88" stroke="#000" stroke-width="1.25" />
<line x1="92.00" y1="673.90" x2="106.00" y2="673.90" stroke="#000" stroke-width="1.25" />
<line x1="727.60" y1="673.90" x2="741.00" y2="673.90" stroke="#000" stroke-width="1.25" />
<line x1="92.00" y1="665.36" x2="101.70" y2="665.36" stroke="#000" stroke-width="1.25" />
<line x1="731.90" y1="665.36" x2="741.00" y2="665.36" stroke="#000" stroke-width="1.25" />
<line x1="92.00" y1="657.22" x2="101.70" y2="657.22" stroke="#000" stroke-width="1.25" />
<line x1="731.90" y1="657.22" x2="741.00" y2="657.22" stroke="#000" stroke-width="1.25" />
<line x1="92.00" y1="649.44" x2="101.70" y2="649.44" stroke="#000" stroke-width="1.25" />
<line x1="731.90" y1="649.44" x2="741.00" y2="649.44" stroke="#000" stroke-width="1.25" />
<line x1="92.00" y1="641.99" x2="101.70" y2="641.99" stroke="#000" stroke-width="1.25" />
<line x1="731.90" y1="641.99" x2="741.00" y2="641.99" stroke="#000" stroke-width="1.25" />
<rect x="90.00" y="34.00" width="2.00" height="923.00" fill="#000"/>
<rect x="741.00" y="34.00" width="2.00" height="923.00" fill="#000"/>
<rect x="90.00" y="34.00" width="653.00" height="2.00" fill="#000"/>
<rect x="90.00" y="634.00" width="653.00" height="2.00" fill="#000"/>
<rect x="90.00" y="955.00" width="653.00" height="2.00" fill="#000"/>
<g transform="rotate(-90)">
<text x="-253.20" y="760.20" font-size="19.5" textLength="217.50" lengthAdjust="spacingAndGlyphs" fill="#878787" >Rivet 4.1.0, &#8805; 100k events</text>
<text x="-629.60" y="761.80" font-size="19.3" textLength="286.50" lengthAdjust="spacingAndGlyphs" fill="#878787" >mcplots.cern.ch [arXiv:1306.3436]</text>
</g>
<text x="103.20" y="28.80" font-size="24.6" textLength="156.50" lengthAdjust="spacingAndGlyphs" fill="#000" >13000 GeV pp</text>
<text x="686.60" y="28.90" font-size="24.6" textLength="44.00" lengthAdjust="spacingAndGlyphs" fill="#000" >Jets</text>
<text x="75.70" y="86.70" font-size="24.6" textLength="514.39" lengthAdjust="spacingAndGlyphs" fill="#000" >CMS, 13 TeV, AK8 jets, central dijet region, 481</text>
<text x="595.90" y="88.80" font-size="24.6" text-anchor="start" fill="#000" >&lt;</text>
<text x="610.20" y="86.70" font-size="24.6" text-anchor="start" fill="#000" >p</text>
<text x="615.60" y="70.70" font-size="15.6" text-anchor="start" fill="#000" >{jet</text>
<text x="614.70" y="99.60" font-size="16.5" text-anchor="start" fill="#000" >T</text>
<text x="637.20" y="86.70" font-size="24.6" text-anchor="start" fill="#000" >}</text>
<text x="645.30" y="88.80" font-size="24.6" text-anchor="start" fill="#000" >&lt;</text>
<text x="666.10" y="86.70" font-size="24.6" textLength="95.70" lengthAdjust="spacingAndGlyphs" fill="#000" >614 GeV</text>
<text transform="translate(79.40,166.50) scale(0.94,1)" font-size="23.2" text-anchor="end" fill="#000">0</text>
<path transform="translate(55.56,166.50) scale(0.02260,-0.02260)" d="M359 0 L264 0 L264 505 L102 505 L102 570 Q205 576 245 608 Q285 640 302 709 L359 709 Z" fill="#000"/>
<path transform="translate(70.86,305.90) scale(0.02240,-0.02240)" d="M359 0 L264 0 L264 505 L102 505 L102 570 Q205 576 245 608 Q285 640 302 709 L359 709 Z" fill="#000"/>
<text transform="translate(64.00,449.20) scale(0.94,1)" font-size="23.2" text-anchor="end" fill="#000">0</text>
<path transform="translate(40.16,449.20) scale(0.02260,-0.02260)" d="M359 0 L264 0 L264 505 L102 505 L102 570 Q205 576 245 608 Q285 640 302 709 L359 709 Z" fill="#000"/>
<text x="64.60" y="440.30" font-size="14.5" text-anchor="start" fill="#000" >&#8722;1</text>
<text transform="translate(62.40,588.90) scale(0.94,1)" font-size="23.2" text-anchor="end" fill="#000">0</text>
<path transform="translate(38.56,588.90) scale(0.02260,-0.02260)" d="M359 0 L264 0 L264 505 L102 505 L102 570 Q205 576 245 608 Q285 640 302 709 L359 709 Z" fill="#000"/>
<text x="63.40" y="580.00" font-size="14.5" text-anchor="start" fill="#000" >&#8722;2</text>
<text transform="translate(77.00,683.30) scale(0.93,1)" font-size="24.6" text-anchor="end" fill="#000">2</text>
<text transform="translate(748.00,683.30) scale(0.93,1)" font-size="24.6" text-anchor="start" fill="#000">2</text>
<path transform="translate(66.28,805.00) scale(0.02400,-0.02400)" d="M359 0 L264 0 L264 505 L102 505 L102 570 Q205 576 245 608 Q285 640 302 709 L359 709 Z" fill="#000"/>
<path transform="translate(747.38,805.00) scale(0.02400,-0.02400)" d="M359 0 L264 0 L264 505 L102 505 L102 570 Q205 576 245 608 Q285 640 302 709 L359 709 Z" fill="#000"/>
<text transform="translate(77.00,926.00) scale(0.93,1)" font-size="24.6" text-anchor="end" fill="#000">0.5</text>
<text transform="translate(748.00,926.00) scale(0.93,1)" font-size="24.6" text-anchor="start" fill="#000">0.5</text>
<text transform="translate(103.50,978.30) scale(0.92,1)" font-size="24.9" text-anchor="middle" fill="#000">0</text>
<text transform="translate(417.30,978.20) scale(0.98,1)" font-size="24.6" text-anchor="middle" fill="#000">0.5</text>
<path transform="translate(726.76,978.20) scale(0.02380,-0.02380)" d="M359 0 L264 0 L264 505 L102 505 L102 570 Q205 576 245 608 Q285 640 302 709 L359 709 Z" fill="#000"/>
<text x="529.00" y="1006.50" font-size="25.4" textLength="219.00" lengthAdjust="spacingAndGlyphs" fill="#000" >LHA (charged-only)</text>
<g transform="rotate(-90)">
<text x="-793.30" y="36.40" font-size="18" text-anchor="middle" fill="#000" >Ratio to CMS</text>
</g>
<text x="333.20" y="604.20" font-size="16.2" textLength="165.00" lengthAdjust="spacingAndGlyphs" fill="#999" >(CMS_2021_I1920187)</text>
<g transform="rotate(-90)">
<text x="-260.50" y="28.00" font-size="25" text-anchor="middle" fill="#000" >#</text>
<text x="-134.10" y="28.00" font-size="25" text-anchor="middle" fill="#000" >#</text>
<rect x="-252.40" y="20.15" width="111.80" height="1.90" fill="#000"/>
<rect x="-126.50" y="20.15" width="91.50" height="1.90" fill="#000"/>
<text x="-196.50" y="17.60" font-size="24" text-anchor="middle" fill="#000" >1</text>
<text x="-239.50" y="42.60" font-size="25" text-anchor="middle" fill="#000" >d</text>
<text x="-217.80" y="42.60" font-size="25" text-anchor="middle" fill="#000" >N</text>
<text x="-198.50" y="42.60" font-size="25" text-anchor="middle" fill="#000" >/</text>
<text x="-175.00" y="42.60" font-size="25" text-anchor="middle" fill="#000" >d</text>
<text x="-155.30" y="42.60" font-size="25" text-anchor="middle" fill="#000" >p</text>
<text x="-146.10" y="55.70" font-size="14.8" text-anchor="middle" fill="#000" >T</text>
<text x="-89.00" y="17.10" font-size="24" text-anchor="middle" fill="#000" >d</text>
<text x="-80.10" y="5.70" font-size="14.8" text-anchor="middle" fill="#000" >2</text>
<text x="-66.20" y="17.10" font-size="24" text-anchor="middle" fill="#000" >N</text>
<text x="-114.40" y="43.10" font-size="25.2" text-anchor="middle" fill="#000" >d</text>
<text x="-94.40" y="43.10" font-size="25.2" text-anchor="middle" fill="#000" >p</text>
<text x="-83.20" y="56.50" font-size="14.8" text-anchor="middle" fill="#000" >T</text>
<text x="-58.20" y="43.10" font-size="25.2" text-anchor="middle" fill="#000" >d</text>
<text x="-42.30" y="43.10" font-size="25.2" text-anchor="middle" fill="#000" >&#955;</text>
</g>
<text x="187.20" y="428.40" font-size="18.95" text-anchor="start" fill="#000" >CMS</text>
<text x="187.20" y="454.40" font-size="18.95" text-anchor="start" fill="#000" >Epos 1.99.crmc.1.6.0 lhc</text>
<text x="187.20" y="480.40" font-size="18.95" text-anchor="start" fill="#000" >Herwig 7.2.1 default</text>
<text x="187.20" y="506.40" font-size="18.95" text-anchor="start" fill="#000" >Pythia 6.428 370</text>
<text x="187.20" y="532.40" font-size="18.95" text-anchor="start" fill="#000" >Pythia 8.315 default</text>
<text x="187.20" y="558.40" font-size="18.95" text-anchor="start" fill="#000" >Sherpa 2.2.9 default</text>
</svg>
</body></html>
